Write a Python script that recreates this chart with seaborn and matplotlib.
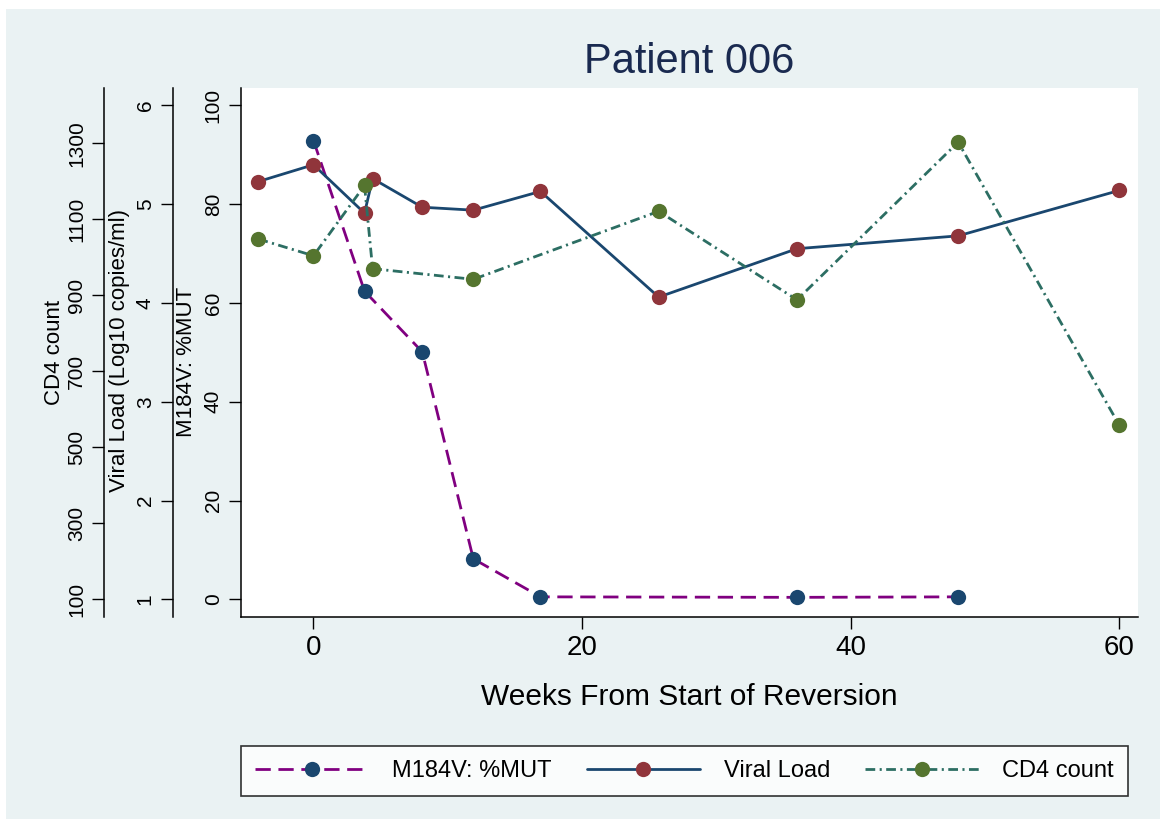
import matplotlib
matplotlib.use("Agg")
import matplotlib.pyplot as plt
from matplotlib.patches import Rectangle
from matplotlib.lines import Line2D
import seaborn as sns
import pandas as pd

# ---------------- data ----------------
mut_weeks = [0, 3.8, 8.1, 11.9, 16.9, 36, 48]
mut_values = [92.9, 62.4, 50.1, 8.2, 0.5, 0.4, 0.5]

vl_weeks = [-4.1, 0, 3.8, 4.4, 8.1, 11.9, 16.9, 25.7, 36, 48, 60]
vl_values = [5.23, 5.40, 4.91, 5.26, 4.97, 4.94, 5.13, 4.06, 4.55, 4.68, 5.14]

cd4_weeks = [-4.1, 0, 3.8, 4.4, 11.9, 25.7, 36, 48, 60]
cd4_values = [1048, 1004, 1189, 970, 942, 1121, 888, 1303, 558]

x_ticks = [0, 20, 40, 60]
mut_ticks = [0, 20, 40, 60, 80, 100]
vl_ticks = [1, 2, 3, 4, 5, 6]
cd4_ticks = [100, 300, 500, 700, 900, 1100, 1300]

title = "Patient 006"
xlabel = "Weeks From Start of Reversion"
mut_label = "M184V: %MUT"
vl_label = "Viral Load (Log10 copies/ml)"
cd4_label = "CD4 count"
legend_labels = ["M184V: %MUT", "Viral Load", "CD4 count"]

# ---------------- style ----------------
sns.set_style("white")
plt.rcParams["font.family"] = ["Liberation Sans", "DejaVu Sans"]
plt.rcParams["lines.scale_dashes"] = False
for k in ("text.color", "axes.labelcolor", "xtick.color", "ytick.color"):
    plt.rcParams[k] = "black"

BG = "#EAF2F3"
NAVY = "#1a476f"
MAROON = "#90353b"
GREEN = "#55752f"
PURPLE = "#800080"
TEAL = "#2c6e63"
TITLE_C = "#1a2a50"

W, H = 1160, 819
fig = plt.figure(figsize=(W / 100, H / 100), dpi=100)
fig.patch.set_facecolor("white")
fig.add_artist(Rectangle((6 / W, 0), 1 - 6 / W, 1 - 9 / H, transform=fig.transFigure,
                         facecolor=BG, edgecolor="none", zorder=-10))

left_px, right_px, top_px, bot_px = 240.7, 1138, 88.3, 617
ax = fig.add_axes([left_px / W, 1 - bot_px / H, (right_px - left_px) / W, (bot_px - top_px) / H])
ax.set_facecolor("white")
ax_vl = ax.twinx()
ax_cd4 = ax.twinx()

lw = 2.0
ms = 11
DASH = (0, (11, 5.5))
DASHDOT = (0, (7, 3.2, 1.5, 3.2))

mut_df = pd.DataFrame({"week": mut_weeks, "value": mut_values})
vl_df = pd.DataFrame({"week": vl_weeks, "value": vl_values})
cd4_df = pd.DataFrame({"week": cd4_weeks, "value": cd4_values})

sns.lineplot(data=mut_df, x="week", y="value", ax=ax, color=PURPLE, lw=lw,
             linestyle=DASH, marker="o", markersize=ms,
             markerfacecolor=NAVY, markeredgecolor=NAVY, markeredgewidth=0, sort=False)
sns.lineplot(data=vl_df, x="week", y="value", ax=ax_vl, color=NAVY, lw=lw,
             linestyle="-", marker="o", markersize=ms,
             markerfacecolor=MAROON, markeredgecolor=MAROON, markeredgewidth=0, sort=False)
sns.lineplot(data=cd4_df, x="week", y="value", ax=ax_cd4, color=TEAL, lw=lw,
             linestyle=DASHDOT, marker="o", markersize=ms,
             markerfacecolor=GREEN, markeredgecolor=GREEN, markeredgewidth=0, sort=False)

# limits (match pixel geometry of reference)
ax.set_xlim(-5.42, 61.39)
ax.set_ylim(-3.58, 103.48)
ax_vl.set_ylim(1 + (-3.58) / 20, 1 + 103.48 / 20)
ax_cd4.set_ylim(53.4, 1444.7)

tick_fs = 15
lab_fs = 16
TL = 8.6   # tick length (pt) ~ 12 px
TP = 4.3   # pad (pt) ~ 6 px

# x axis
ax.set_xticks(x_ticks)
ax.set_xticklabels([str(t) for t in x_ticks], fontsize=20)
ax.set_xlabel("")
ax.tick_params(axis="x", direction="out", length=TL, width=1, pad=TP, colors="black", bottom=True)

# main y axis (M184V)
ax.set_yticks(mut_ticks)
ax.set_yticklabels([str(t) for t in mut_ticks], fontsize=tick_fs, rotation=90, va="center")
ax.set_ylabel("")
ax.tick_params(axis="y", direction="out", length=TL, width=1, pad=TP, left=True)

for a in (ax_vl, ax_cd4):
    a.yaxis.set_ticks_position("left")
    a.spines["right"].set_visible(False)
    a.spines["top"].set_visible(False)
    a.spines["bottom"].set_visible(False)
    a.tick_params(axis="y", direction="out", length=TL, width=1, pad=TP, left=True, right=False)
    a.set_ylabel("")

ax_vl.spines["left"].set_position(("axes", (172.7 - left_px) / (right_px - left_px)))
ax_cd4.spines["left"].set_position(("axes", (104 - left_px) / (right_px - left_px)))

ax_vl.set_yticks(vl_ticks)
ax_vl.set_yticklabels([str(t) for t in vl_ticks], fontsize=tick_fs, rotation=90, va="center")

ax_cd4.set_yticks(cd4_ticks)
ax_cd4.set_yticklabels([str(t) for t in cd4_ticks], fontsize=tick_fs, rotation=90, va="center")

for a in (ax, ax_vl, ax_cd4):
    for s in a.spines.values():
        s.set_color("black")
        s.set_linewidth(1.1)
ax.spines["top"].set_visible(False)
ax.spines["right"].set_visible(False)

# axis titles (placed as in the reference)
fig.text(187 / W, 1 - 362 / H, mut_label, fontsize=lab_fs, rotation=90, ha="center", va="center")
fig.text(120 / W, 1 - 350 / H, vl_label, fontsize=lab_fs, rotation=90, ha="center", va="center")
fig.text(55 / W, 1 - 352 / H, cd4_label, fontsize=lab_fs, rotation=90, ha="center", va="center")
fig.text((left_px + right_px) / 2 / W, 1 - 697 / H, xlabel, fontsize=21.5, ha="center", va="center")

# title
fig.text((left_px + right_px) / 2 / W, 1 - 62 / H, title, fontsize=30, color=TITLE_C,
         ha="center", va="center")

# legend
handles = [
    Line2D([], [], color=PURPLE, lw=lw, linestyle=DASH, marker="o", markersize=ms,
           markerfacecolor=NAVY, markeredgecolor=NAVY, markeredgewidth=0),
    Line2D([], [], color=NAVY, lw=lw, linestyle="-", marker="o", markersize=ms,
           markerfacecolor=MAROON, markeredgecolor=MAROON, markeredgewidth=0),
    Line2D([], [], color=TEAL, lw=lw, linestyle=DASHDOT, marker="o", markersize=ms,
           markerfacecolor=GREEN, markeredgecolor=GREEN, markeredgewidth=0),
]
leg = fig.legend(handles, legend_labels, ncol=3, loc="lower left",
                 bbox_to_anchor=(241 / W, 1 - 796 / H, (1128 - 241) / W, (796 - 742) / H),
                 mode="expand", frameon=True, fancybox=False, fontsize=17,
                 handlelength=4.8, handletextpad=1.0, columnspacing=2.0,
                 borderpad=0.6, numpoints=1, borderaxespad=0)
leg.get_frame().set_edgecolor("black")
leg.get_frame().set_linewidth(1.2)
leg.get_frame().set_facecolor("white")

fig.savefig("out.png", dpi=100, facecolor=fig.get_facecolor())
